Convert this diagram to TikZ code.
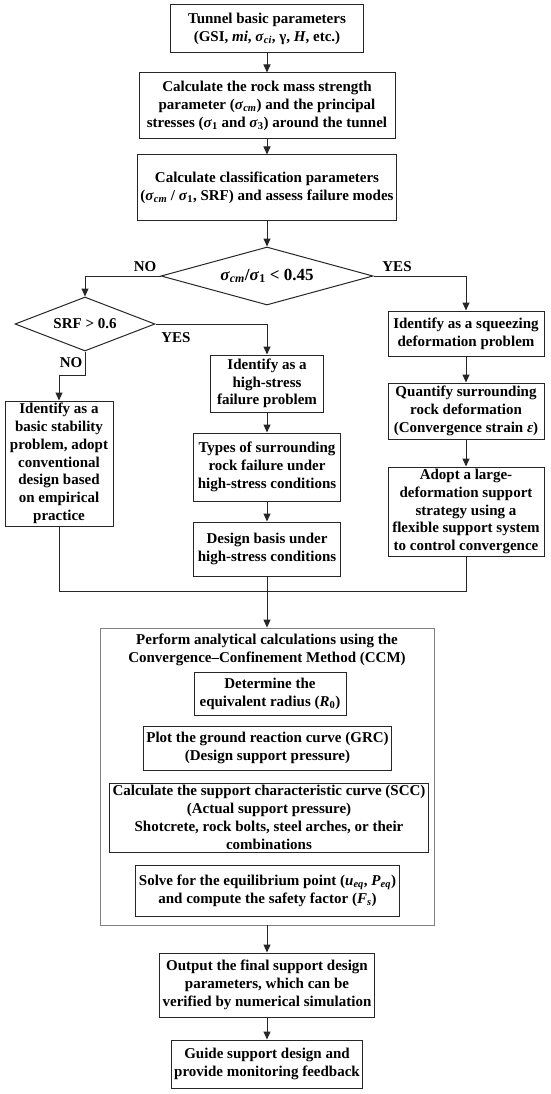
\documentclass[tikz,border=0pt]{standalone}
\usepackage{fontspec}
\setmainfont{Liberation Serif}
\usetikzlibrary{shapes.geometric,arrows.meta}
\newcommand{\sg}{\textit{σ}}
\newcommand{\subs}[1]{\textsubscript{#1}}
\begin{document}
\begin{tikzpicture}[x=1pt,y=-1pt,
  font=\fontsize{15}{17.8}\selectfont\bfseries,
  box/.style={draw=black!85, line width=1pt, align=center, inner xsep=3pt, inner ysep=1pt},
  dia/.style={draw=black!85, line width=1pt, diamond, align=center, inner sep=0pt},
  outer/.style={draw=black!50, line width=0.8pt, inner sep=0pt},
  arr/.style={draw=black!85, line width=1pt, -{Triangle[length=8pt,width=7pt]}},
  ln/.style={draw=black!85, line width=1pt},
  lab/.style={font=\fontsize{15}{17}\selectfont\bfseries}]
\useasboundingbox (0,0) rectangle (550,1094);

% top chain
\node[box, minimum width=193, minimum height=48] (b1) at (267,29)
  {Tunnel basic parameters\\(GSI, \textit{mi}, \sg\subs{\textit{ci}}, γ, \textit{H}, etc.)};
\node[box, minimum width=256, minimum height=66] (b2) at (267,106)
  {Calculate the rock mass strength\\parameter (\sg\subs{\textit{cm}}) and the principal\\stresses (\sg\subs{1} and \sg\subs{3}) around the tunnel};
\node[box, minimum width=256, minimum height=65] (b3) at (267,187.5)
  {Calculate classification parameters\\(\sg\subs{\textit{cm}} / \sg\subs{1}, SRF) and assess failure modes};
\node[dia, minimum width=212, minimum height=58, aspect=3.66, font=\fontsize{17}{19}\selectfont\bfseries] (d1) at (267,276)
  {\sg\subs{\textit{cm}}/\sg\subs{1} {<} 0.45};
\node[dia, minimum width=140, minimum height=54, aspect=2.6] (srf) at (85,324) {SRF > 0.6};

% left
\node[box, minimum width=108, minimum height=125] (basic) at (59,463.5)
  {Identify as a\\basic stability\\problem, adopt\\conventional\\design based\\on empirical\\practice};
% centre
\node[box, minimum width=113, minimum height=57] (hs) at (267,383.5)
  {Identify as a\\high-stress\\failure problem};
\node[box, minimum width=147, minimum height=68] (types) at (267,467)
  {Types of surrounding\\rock failure under\\high-stress conditions};
\node[box, minimum width=147, minimum height=54] (design) at (267,549)
  {Design basis under\\high-stress conditions};
% right
\node[box, minimum width=156, minimum height=45] (sq) at (466,333.5)
  {Identify as a squeezing\\deformation problem};
\node[box, minimum width=156, minimum height=56] (quant) at (466,411)
  {Quantify surrounding\\rock deformation\\(Convergence strain \textit{ε})};
\node[box, minimum width=156, minimum height=89] (adopt) at (466,511.5)
  {Adopt a large-\\deformation support\\strategy using a\\flexible support system\\to control convergence};

% CCM
\node[outer, minimum width=334, minimum height=297] (ccm) at (267,776.5) {};
\node[align=center] (title) at (267,650)
  {Perform analytical calculations using the\\Convergence–Confinement Method (CCM)};
\node[box, minimum width=152, minimum height=43] (det) at (270,693.5)
  {Determine the\\equivalent radius (\textit{R}\subs{0})};
\node[box, minimum width=246, minimum height=44] (plot) at (267.5,748)
  {Plot the ground reaction curve (GRC)\\(Design support pressure)};
\node[box, minimum width=318, minimum height=69] (scc) at (269,817.5)
  {Calculate the support characteristic curve (SCC)\\(Actual support pressure)\\Shotcrete, rock bolts, steel arches, or their\\combinations};
\node[box, minimum width=245, minimum height=51] (solve) at (267.5,890.5)
  {Solve for the equilibrium point (\textit{u}\subs{\textit{eq}}, \textit{P}\subs{\textit{eq}})\\and compute the safety factor (\textit{F}\subs{\textit{s}})};

% bottom
\node[box, minimum width=209, minimum height=64] (out) at (267,985)
  {Output the final support design\\parameters, which can be\\verified by numerical simulation};
\node[box, minimum width=185, minimum height=48] (guide) at (267,1064)
  {Guide support design and\\provide monitoring feedback};

% coordinates
\coordinate (j1) at (85,375);
\coordinate (mL) at (59,591);
\coordinate (mC) at (267,591);
\coordinate (mR) at (466,591);

% connectors
\draw[arr] (b1) -- (b2);
\draw[arr] (b2) -- (b3);
\draw[arr] (b3) -- (d1);
\draw[arr] (d1.west) -| (srf.north);
\draw[arr] (d1.east) -| (sq.north);
\draw[arr] (srf.east) -| (hs.north);
\draw[arr] (srf.south) -- (j1) -| (basic.north);
\draw[arr] (hs) -- (types);
\draw[arr] (types) -- (design);
\draw[arr] (sq) -- (quant);
\draw[arr] (quant) -- (adopt);
\draw[ln] (basic.south) -- (mL) -- (mR) -- (adopt.south);
\draw[ln] (design.south) -- (mC);
\draw[arr] (mC) -- (ccm.north);
\draw[arr] (ccm.south) -- (out.north);
\draw[arr] (out) -- (guide);

% labels
\node[lab] (no1) at (145,267) {NO};
\node[lab] (yes1) at (397,267) {YES};
\node[lab] (yes2) at (176,338) {YES};
\node[lab] (no2) at (71,363) {NO};
\end{tikzpicture}
\end{document}
